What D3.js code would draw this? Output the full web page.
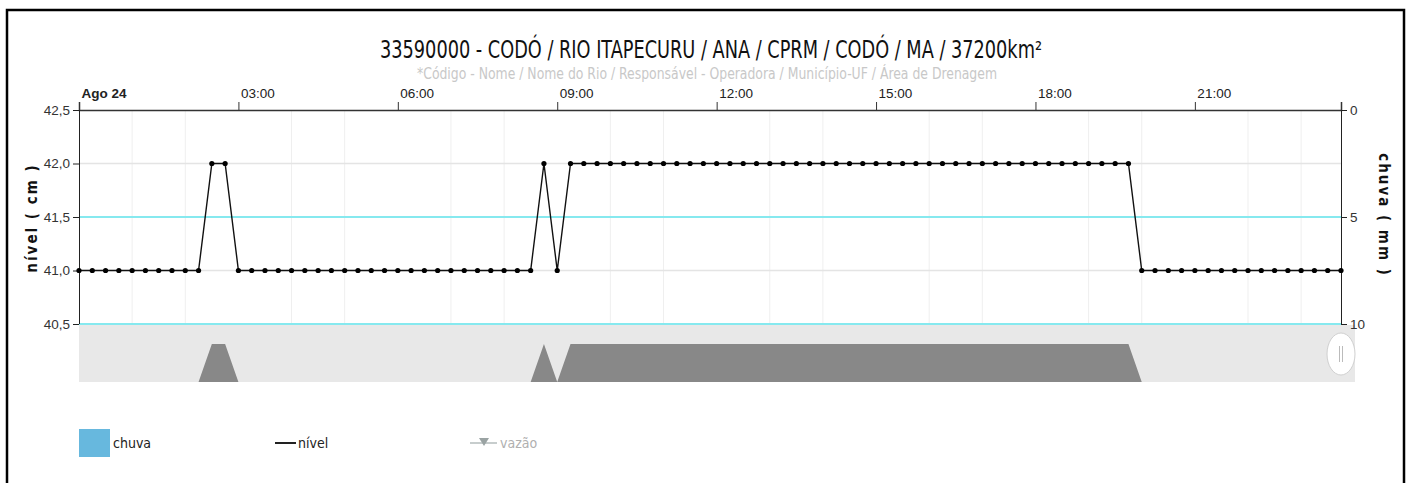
<!doctype html>
<html lang='pt'>
  <head>
    <meta charset='utf-8'>
    <title>33590000 - CODÓ / RIO ITAPECURU</title>
    <script src='https://cdn.jsdelivr.net/npm/d3@7'></script>
    <style>
      body { margin: 0; background: #fff; }
      svg { display: block; font-family: 'DejaVu Sans Condensed', 'DejaVu Sans', sans-serif; font-stretch: condensed; }
    </style>
  </head>
  <body>
    <svg width='1411' height='483'></svg>
    <script>
      // leituras a cada 15 minutos, de 00:00 a 23:45 (24/08)
      var nivel = [
        41, 41, 41, 41, 41, 41, 41, 41, 41, 41,
        42, 42,
        41, 41, 41, 41, 41, 41, 41, 41, 41, 41, 41, 41, 41, 41, 41, 41, 41, 41, 41, 41, 41, 41, 41,
        42,
        41,
        42, 42, 42, 42, 42, 42, 42, 42, 42, 42, 42, 42, 42, 42, 42, 42, 42, 42, 42, 42, 42, 42,
        42, 42, 42, 42, 42, 42, 42, 42, 42, 42, 42, 42, 42, 42, 42, 42, 42, 42, 42, 42, 42,
        41, 41, 41, 41, 41, 41, 41, 41, 41, 41, 41, 41, 41, 41, 41, 41
      ];
      var chuva = nivel.map(function() { return 0; }); // sem chuva registrada
      var horas = nivel.map(function(d, i) { return new Date(2019, 7, 24, 0, i * 15); });
      var nivelTicks = [40.5, 41.0, 41.5, 42.0, 42.5];
      var chuvaTicks = [0, 5, 10];
      var legendItems = ['chuva', 'nível', 'vazão'];
      var titulo = '33590000 - CODÓ / RIO ITAPECURU / ANA / CPRM / CODÓ / MA / 37200km²';
      var subtitulo = '*Código - Nome / Nome do Rio / Responsável - Operadora / Município-UF / Área de Drenagem';

      var svg = d3.select('svg'),
          pLeft = 79, pRight = 1341, pTop = 110, pBottom = 324,
          navTop = 324, navBottom = 382;

      // moldura
      svg.append('rect')
        .attr('x', 7).attr('y', 10)
        .attr('width', 1397).attr('height', 490)
        .attr('fill', 'none')
        .attr('stroke', '#000')
        .attr('stroke-width', 2.5);

      svg.append('text')
        .attr('x', 711).attr('y', 58)
        .attr('text-anchor', 'middle')
        .attr('font-size', 24)
        .attr('fill', '#111')
        .attr('textLength', 662)
        .attr('lengthAdjust', 'spacingAndGlyphs')
        .text(titulo);

      svg.append('text')
        .attr('x', 707).attr('y', 79)
        .attr('text-anchor', 'middle')
        .attr('font-size', 16)
        .attr('fill', '#c8c8c8')
        .attr('textLength', 580)
        .attr('lengthAdjust', 'spacingAndGlyphs')
        .text(subtitulo);

      var x = d3.scaleTime()
                .domain([horas[0], horas[horas.length - 1]])
                .range([pLeft, pRight]);
      var y = d3.scaleLinear().domain([40.5, 42.5]).range([pBottom, pTop]);
      var yChuva = d3.scaleLinear().domain([0, 10]).range([pTop, pBottom]);
      var yNav = d3.scaleLinear().domain([41, 42]).range([navBottom, 344]);

      // grade vertical (de hora em hora, exceto marcas principais)
      var grade = d3.timeHour.range(horas[0], horas[horas.length - 1])
        .filter(function(d) { return d.getHours() % 3 !== 0; });
      svg.append('g').selectAll('line')
        .data(grade)
        .enter().append('line')
        .attr('x1', function(d) { return x(d); })
        .attr('x2', function(d) { return x(d); })
        .attr('y1', pTop).attr('y2', pBottom)
        .attr('stroke', '#efefef');

      // grade horizontal
      svg.append('g').selectAll('line')
        .data([41.0, 42.0])
        .enter().append('line')
        .attr('x1', pLeft).attr('x2', pRight)
        .attr('y1', function(d) { return y(d); })
        .attr('y2', function(d) { return y(d); })
        .attr('stroke', '#e4e4e4')
        .attr('stroke-width', 1.5);

      svg.append('g').selectAll('line')
        .data([5, 10])
        .enter().append('line')
        .attr('x1', pLeft).attr('x2', pRight)
        .attr('y1', function(d) { return yChuva(d); })
        .attr('y2', function(d) { return yChuva(d); })
        .attr('stroke', '#86e9ef')
        .attr('stroke-width', 2);

      // navegador
      svg.append('rect')
        .attr('x', pLeft).attr('y', navTop + 1)
        .attr('width', 1355 - pLeft).attr('height', navBottom - navTop - 1)
        .attr('fill', '#e8e8e8');

      svg.append('path')
        .datum(nivel)
        .attr('fill', '#888888')
        .attr('d', d3.area()
          .x(function(d, i) { return x(horas[i]); })
          .y0(navBottom)
          .y1(function(d) { return yNav(d); }));

      svg.append('ellipse')
        .attr('cx', pRight).attr('cy', 354)
        .attr('rx', 14).attr('ry', 21)
        .attr('fill', '#fff')
        .attr('stroke', '#d0d0d0');
      svg.append('g').selectAll('line')
        .data([-1.5, 1.5])
        .enter().append('line')
        .attr('x1', function(d) { return pRight + d; })
        .attr('x2', function(d) { return pRight + d; })
        .attr('y1', 346).attr('y2', 362)
        .attr('stroke', '#bbb');

      // chuva (barras penduradas do topo)
      svg.append('g').selectAll('rect')
        .data(chuva)
        .enter().append('rect')
        .attr('x', function(d, i) { return x(horas[i]) - 5; })
        .attr('y', pTop)
        .attr('width', 10)
        .attr('height', function(d) { return yChuva(d) - pTop; })
        .attr('fill', '#67b8de');

      // eixo do tempo
      var eixoX = svg.append('g')
        .attr('transform', 'translate(0,' + pTop + ')')
        .call(d3.axisTop(x)
          .ticks(d3.timeHour.every(3))
          .tickSize(8)
          .tickFormat(function(d) { return d.getHours() === 0 ? 'Ago 24' : d3.timeFormat('%H:%M')(d); }));
      eixoX.select('.domain').attr('stroke', '#333').attr('stroke-width', 1.5);
      eixoX.selectAll('.tick line').attr('stroke', '#333');
      eixoX.selectAll('.tick text')
        .attr('text-anchor', 'start')
        .attr('x', 2)
        .attr('y', -12)
        .attr('font-size', 13.5)
        .attr('font-family', null)
        .attr('fill', '#222')
        .attr('font-weight', function(d) { return d.getHours() === 0 ? 'bold' : null; });

      var eixoY = svg.append('g')
        .attr('transform', 'translate(' + pLeft + ',0)')
        .call(d3.axisLeft(y)
          .tickValues(nivelTicks)
          .tickSize(6)
          .tickFormat(function(d) { return d3.format('.1f')(d).replace('.', ','); }));
      eixoY.select('.domain').attr('stroke', '#222').attr('d', 'M0.5,' + pTop + 'V' + pBottom);
      eixoY.selectAll('.tick line').attr('stroke', '#222');
      eixoY.selectAll('.tick text').attr('font-size', 13.5).attr('font-family', null).attr('fill', '#333');

      var eixoC = svg.append('g')
        .attr('transform', 'translate(' + pRight + ',0)')
        .call(d3.axisRight(yChuva).tickValues(chuvaTicks).tickSize(6));
      eixoC.select('.domain').attr('stroke', '#222').attr('d', 'M0.5,' + pTop + 'V' + pBottom);
      eixoC.selectAll('.tick line').attr('stroke', '#222');
      eixoC.selectAll('.tick text').attr('font-size', 13.5).attr('font-family', null).attr('fill', '#333');

      svg.append('text')
        .attr('transform', 'translate(37,218) rotate(-90)')
        .attr('text-anchor', 'middle')
        .attr('font-family', 'DejaVu Sans, sans-serif')
        .attr('font-weight', 'bold')
        .attr('font-size', 15)
        .attr('letter-spacing', 2)
        .attr('fill', '#111')
        .text('nível ( cm )');

      svg.append('text')
        .attr('transform', 'translate(1379,215) rotate(90)')
        .attr('text-anchor', 'middle')
        .attr('font-family', 'DejaVu Sans, sans-serif')
        .attr('font-weight', 'bold')
        .attr('font-size', 15)
        .attr('letter-spacing', 2)
        .attr('fill', '#111')
        .text('chuva ( mm )');

      // série nível
      var line = d3.line()
        .x(function(d, i) { return x(horas[i]); })
        .y(function(d) { return y(d); });

      svg.append('path')
        .datum(nivel)
        .attr('fill', 'none')
        .attr('stroke', '#111')
        .attr('stroke-width', 1.4)
        .attr('d', line);

      svg.append('g').selectAll('circle')
        .data(nivel)
        .enter().append('circle')
        .attr('cx', function(d, i) { return x(horas[i]); })
        .attr('cy', function(d) { return y(d); })
        .attr('r', 2.6)
        .attr('fill', '#000');

      // legenda
      var legendX = {'chuva': 79, 'nível': 275, 'vazão': 470};
      var legend = svg.append('g')
        .selectAll('g')
        .data(legendItems)
        .enter().append('g')
        .attr('transform', function(d) { return 'translate(' + legendX[d] + ',443)'; });

      legend.filter(function(d) { return d === 'chuva'; })
        .append('rect')
        .attr('y', -14).attr('width', 31).attr('height', 28)
        .attr('fill', '#67b8de');
      legend.filter(function(d) { return d === 'nível'; })
        .append('line')
        .attr('x1', 0).attr('x2', 21)
        .attr('stroke', '#222').attr('stroke-width', 2);
      var vazao = legend.filter(function(d) { return d === 'vazão'; });
      vazao.append('line')
        .attr('x1', 0).attr('x2', 27)
        .attr('stroke', '#b5bcbc').attr('stroke-width', 1.5);
      vazao.append('path')
        .attr('d', 'M9,-5L19,-5L14,3Z')
        .attr('fill', '#9aa3a3');

      legend.append('text')
        .attr('x', function(d) { return d === 'chuva' ? 34 : d === 'nível' ? 23 : 30; })
        .attr('y', 5)
        .attr('font-size', 14)
        .attr('fill', function(d) { return d === 'vazão' ? '#b0b0b0' : '#222'; })
        .text(function(d) { return d; });
    </script>
  </body>
</html>
